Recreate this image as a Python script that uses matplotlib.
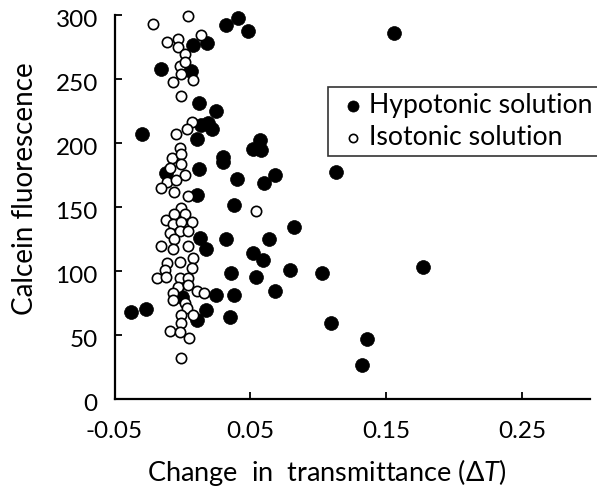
import matplotlib
matplotlib.use("Agg")
import matplotlib.pyplot as plt
from matplotlib.transforms import ScaledTranslation

plt.rcParams['font.family'] = ['Lato', 'DejaVu Sans']
plt.rcParams['mathtext.fontset'] = 'custom'
plt.rcParams['mathtext.it'] = 'Lato:italic'
plt.rcParams['mathtext.rm'] = 'Lato'

# 低渗溶液 (Hypotonic)
hypo_x = [0.032, 0.041, 0.048, 0.008, 0.018, -0.016, 0.006, 0.012, 0.025, -0.030,
          0.011, 0.014, 0.019, 0.022, 0.057, 0.052, 0.058, 0.030, 0.030, 0.012,
          0.040, 0.060, 0.068, 0.113, -0.012, 0.011, 0.038, 0.082, 0.013, 0.032,
          0.064, 0.017, 0.052, 0.059, 0.036, 0.054, 0.079, 0.103, 0.068, 0.025,
          0.038, 0.000, -0.038, -0.027, 0.017, 0.011, 0.035, 0.109, 0.136, 0.132,
          0.177, 0.156]
hypo_y = [291.8, 297.3, 287.5, 276.6, 277.9, 258.0, 256.3, 231.3, 225.0, 207.0,
          203.0, 214.0, 215.4, 211.0, 202.3, 195.3, 194.5, 189.0, 185.2, 179.7,
          171.7, 169.0, 175.0, 177.6, 176.3, 159.4, 151.6, 134.1, 126.0, 124.8,
          124.8, 116.8, 113.8, 108.6, 98.2, 95.3, 100.8, 98.2, 84.6, 80.9,
          80.9, 79.9, 68.2, 70.2, 69.9, 61.7, 64.1, 59.1, 46.9, 26.6,
          102.9, 285.7]

# 等渗溶液 (Isotonic)
iso_x = [-0.022, 0.004, -0.011, -0.003, -0.003, 0.014, 0.002, -0.002, 0.002, -0.001,
         -0.007, 0.008, -0.001, 0.007, -0.005, 0.003, -0.002, -0.008, -0.001, -0.009,
         -0.001, 0.002, -0.011, -0.005, -0.016, -0.006, 0.004, -0.001, -0.012, -0.006,
         0.002, -0.007, -0.001, 0.007, -0.009, -0.002, 0.004, -0.006, -0.016, -0.007,
         0.004, 0.054, -0.011, -0.002, 0.008, -0.013, 0.007, -0.019, -0.012, -0.002,
         0.004, -0.003, 0.004, -0.007, 0.011, 0.016, -0.007, 0.002, 0.003, -0.001,
         0.008, -0.001, -0.009, -0.002, 0.005, -0.001]
iso_y = [293.0, 299.2, 279.1, 281.0, 275.2, 284.4, 269.3, 260.0, 263.3, 253.7,
         247.4, 249.2, 237.0, 216.6, 207.0, 211.0, 196.3, 188.0, 191.2, 180.2,
         183.4, 175.0, 169.8, 171.1, 165.1, 162.0, 158.8, 149.5, 139.8, 144.3,
         144.3, 136.5, 138.0, 138.0, 129.5, 131.3, 131.3, 124.8, 119.5, 117.2,
         119.9, 146.9, 106.0, 107.3, 109.9, 100.8, 102.1, 94.8, 95.5, 94.3,
         94.3, 87.7, 89.1, 82.6, 84.4, 82.6, 77.3, 74.8, 70.9, 65.6,
         65.6, 59.1, 53.1, 52.6, 47.4, 31.8]

x_ticks = [-0.05, 0.05, 0.15, 0.25]
x_ticklabels = ['-0.05', '0.05', '0.15', '0.25']
y_ticks = [0, 50, 100, 150, 200, 250, 300]

fig = plt.figure(figsize=(5.97, 4.87), dpi=100)
ax = fig.add_axes([0.1918, 0.1807, 0.7965, 0.7885])

ax.scatter(hypo_x, hypo_y, s=100, c='black', edgecolors='black', linewidths=0.5,
           label='Hypotonic solution', zorder=2, clip_on=False)
ax.scatter(iso_x, iso_y, s=55, c='white', edgecolors='black', linewidths=1.2,
           label='Isotonic solution', zorder=3, clip_on=False)

ax.set_xlim(-0.05, 0.30)
ax.set_ylim(0, 300)
ax.set_xticks(x_ticks)
ax.set_xticklabels(x_ticklabels)
ax.set_yticks(y_ticks)

for side in ['top', 'right']:
    ax.spines[side].set_visible(False)
for side in ['left', 'bottom']:
    ax.spines[side].set_linewidth(1.6)

ax.tick_params(axis='both', direction='in', length=5, width=1.3, labelsize=17.5)
ax.tick_params(axis='x', pad=16)
ax.tick_params(axis='y', pad=12)

# Excel 风格: y 轴刻度标签略微下移
shift = ScaledTranslation(0, -4 / 100, fig.dpi_scale_trans)
for lab in ax.get_yticklabels():
    lab.set_transform(lab.get_transform() + shift)

ax.set_xlabel('Change  in  transmittance (Δ$T$)', fontsize=19.5)
ax.xaxis.set_label_coords(0.446, -0.151)
ax.set_ylabel('Calcein fluorescence', fontsize=20)
ax.yaxis.set_label_coords(-0.161, 0.547)

leg = ax.legend(loc='upper left', bbox_to_anchor=(0.449, 0.8125), frameon=True,
                fancybox=False, edgecolor='black', fontsize=19.2, markerscale=0.8,
                handletextpad=-0.1, borderpad=0.22, labelspacing=0.28,
                handlelength=1.4, borderaxespad=0)
leg.get_frame().set_linewidth(1.2)

fig.savefig('out.png', dpi=100)
